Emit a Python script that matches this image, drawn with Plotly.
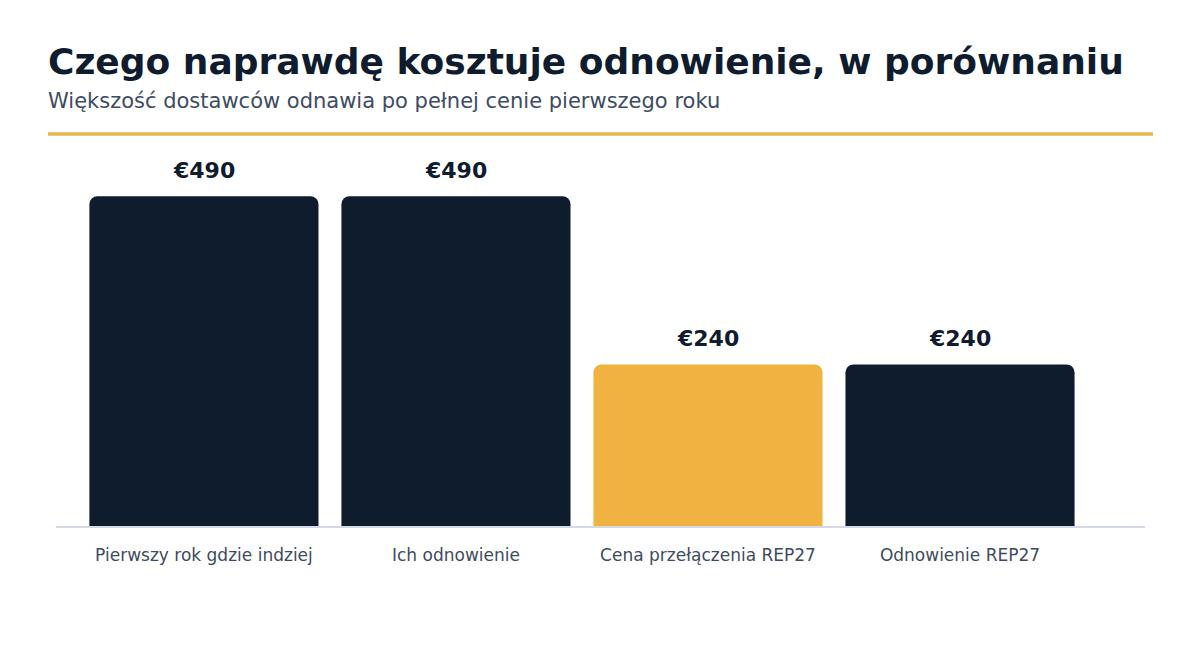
import plotly.graph_objects as go

categories = ["Pierwszy rok gdzie indziej", "Ich odnowienie", "Cena przełączenia REP27", "Odnowienie REP27"]
values = [490, 490, 240, 240]
value_labels = ["€490", "€490", "€240", "€240"]
highlight = [False, False, True, False]

NAVY = "#0f1c2e"
GOLD = "#f0b240"

OFF = 8  # page body offset
W, H = 1200, 646
L, R, T, B = 48, 63, 141, 128
PW = W - L - R
PH = H - T - B

def px_x(px):
    return (px - OFF - L) / PW

def px_y(py):
    return (H - B - (py - OFF)) / PH

colors = [GOLD if h else NAVY for h in highlight]

fig = go.Figure()
fig.add_trace(go.Bar(
    x=list(range(len(categories))),
    y=values,
    marker=dict(color=colors, cornerradius=8, line=dict(width=0)),
    width=0.909,
    hoverinfo="skip",
))

for i, (v, lab) in enumerate(zip(values, value_labels)):
    fig.add_annotation(
        x=i, y=v, xref="x", yref="y", text=lab, showarrow=False,
        yanchor="bottom", yshift=11,
        font=dict(family="DejaVu Sans", size=22, color=NAVY, weight="bold"),
    )

fig.add_annotation(
    x=px_x(46), y=px_y(62), xref="paper", yref="paper", xanchor="left", yanchor="middle",
    text="<b>Czego naprawdę kosztuje odnowienie, w porównaniu</b>", showarrow=False,
    font=dict(family="DejaVu Sans", size=36, color=NAVY),
)
fig.add_annotation(
    x=px_x(46), y=px_y(101), xref="paper", yref="paper", xanchor="left", yanchor="middle",
    text="Większość dostawców odnawia po pełnej cenie pierwszego roku", showarrow=False,
    font=dict(family="DejaVu Sans", size=21, color="#3d4b63"),
)
fig.add_shape(
    type="line", xref="paper", yref="paper",
    x0=px_x(48), x1=px_x(1153), y0=px_y(134), y1=px_y(134),
    line=dict(color="#e6b84a", width=3.5),
)

fig.update_layout(
    width=W, height=H,
    margin=dict(l=L, r=R, t=T, b=B, autoexpand=False),
    paper_bgcolor="white", plot_bgcolor="white",
    showlegend=False,
    xaxis=dict(
        tickmode="array", tickvals=list(range(len(categories))), ticktext=categories,
        range=[-0.587, 3.734], showgrid=False, zeroline=False,
        showline=True, linecolor="#d3dae5", linewidth=2,
        ticks="outside", ticklen=13, tickcolor="rgba(0,0,0,0)",
        tickfont=dict(family="DejaVu Sans", size=17, color="#3d4b5e"),
        fixedrange=True,
    ),
    yaxis=dict(
        range=[0, 560], showgrid=False, zeroline=False, showticklabels=False,
        showline=False, fixedrange=True,
    ),
)

fig.write_html("out.html")
